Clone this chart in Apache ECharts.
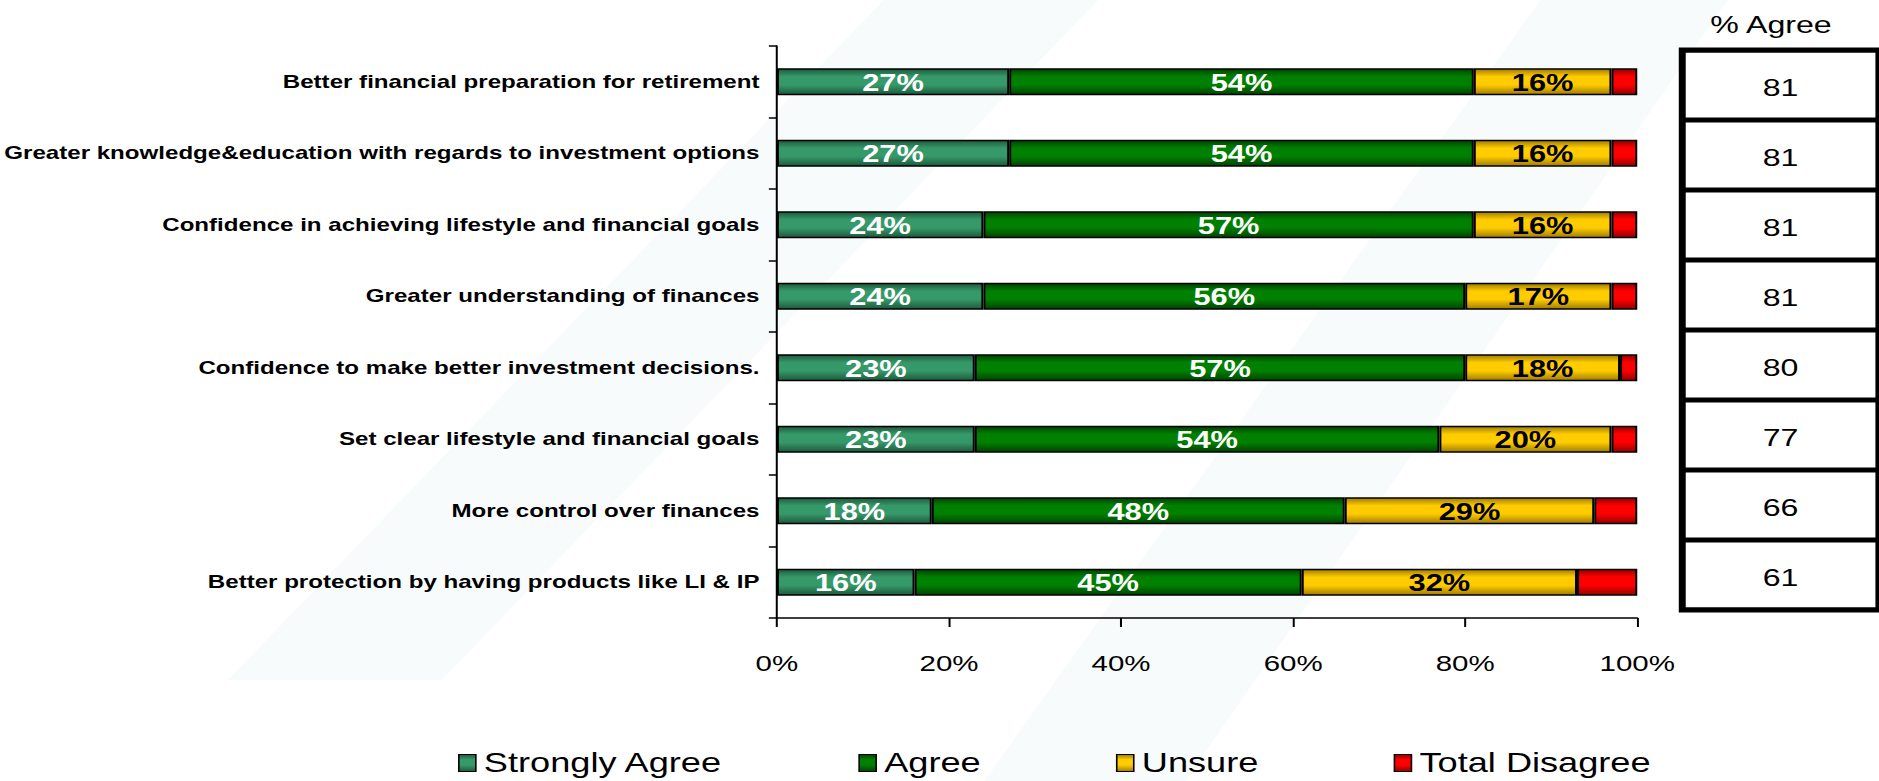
<!DOCTYPE html>
<html>
<head>
<meta charset="utf-8">
<title>Perceived benefits of advice</title>
<script src="https://cdn.jsdelivr.net/npm/echarts@6/dist/echarts.min.js"></script>
<style>
  html, body { margin: 0; padding: 0; background: #ffffff; overflow: hidden; }
  /* The slide is laid out on a narrower canvas and stretched horizontally */
  #chart { width: 1403px; height: 781px; transform: scaleX(1.33927); transform-origin: 0 0; }
</style>
</head>
<body>
<div id="chart"></div>
<script>
// Statements, top to bottom
const categories = [
  'Better financial preparation for retirement',
  'Greater knowledge&education with regards to investment options',
  'Confidence in achieving lifestyle and financial goals',
  'Greater understanding of finances',
  'Confidence to make better investment decisions.',
  'Set clear lifestyle and financial goals',
  'More control over finances',
  'Better protection by having products like LI & IP'
];

// Response shares (%)
const stronglyAgree = [27, 27, 24, 24, 23, 23, 18, 16];
const agree         = [54, 54, 57, 56, 57, 54, 48, 45];
const unsure        = [16, 16, 16, 17, 18, 20, 29, 32];
const totalDisagree = [3, 3, 3, 3, 2, 3, 5, 7];

// "% Agree" column
const agreeTotals = [81, 81, 81, 81, 80, 77, 66, 61];

// Percentage axis
const xTickMin = 0;
const xTickMax = 100;
const xTickStep = 20;

const FONT = '"Liberation Sans", Arial, sans-serif';

function shade(dark, mid) {
  return {
    type: 'linear', x: 0, y: 0, x2: 0, y2: 1,
    colorStops: [
      { offset: 0, color: dark },
      { offset: 0.3, color: mid },
      { offset: 0.62, color: mid },
      { offset: 1, color: dark }
    ]
  };
}

const seriesDefs = [
  { name: 'Strongly Agree', data: stronglyAgree, fill: shade('#1c5a3c', '#36996a'), text: '#ffffff', label: true },
  { name: 'Agree',          data: agree,         fill: shade('#004400', '#008000'), text: '#ffffff', label: true },
  { name: 'Unsure',         data: unsure,        fill: shade('#a07c00', '#ffcc00'), text: '#000000', label: true },
  { name: 'Total Disagree', data: totalDisagree, fill: shade('#960000', '#ff0000'), text: '#000000', label: false }
];

const chart = echarts.init(document.getElementById('chart'), null, { renderer: 'svg' });

const stackSeries = seriesDefs.map(d => ({
  name: d.name,
  type: 'bar',
  stack: 'total',
  xAxisIndex: 0,
  yAxisIndex: 0,
  barWidth: 27,
  data: d.data,
  itemStyle: { color: d.fill, borderColor: '#000000', borderWidth: 1.5 },
  label: {
    show: d.label,
    position: 'inside',
    formatter: '{c}%',
    color: d.text,
    fontFamily: FONT,
    fontWeight: 'bold',
    fontSize: 23,
    offset: [0, 1]
  },
  emphasis: { disabled: true },
  z: 3
}));

// One cell per statement in the "% Agree" column
const tableSeries = {
  name: '% Agree',
  type: 'bar',
  xAxisIndex: 1,
  yAxisIndex: 1,
  barCategoryGap: 0,
  barWidth: '100%',
  data: agreeTotals.map((v, i) => [1, i, v]),
  encode: { x: 0, y: 1 },
  itemStyle: { color: '#ffffff', borderColor: '#000000', borderWidth: 2.5 },
  label: {
    show: true,
    position: 'inside',
    offset: [0, 3],
    formatter: p => String(p.value[2]),
    color: '#000000',
    fontFamily: FONT,
    fontSize: 24
  },
  emphasis: { disabled: true },
  z: 2
};

const option = {
  backgroundColor: '#ffffff',
  animation: false,
  textStyle: { fontFamily: FONT },
  graphic: [
    // faint backdrop bands
    {
      type: 'polygon', z: -10, silent: true,
      shape: { points: [[170, 680], [330, 680], [820, 0], [660, 0]] },
      style: { fill: '#f8fbfc' }
    },
    {
      type: 'polygon', z: -10, silent: true,
      shape: { points: [[735, 781], [885, 781], [1290, 0], [1150, 0]] },
      style: { fill: '#f8fbfc' }
    },
    {
      type: 'text', left: 1327 - 50, top: 13, z: 10,
      style: { text: '% Agree', fontFamily: FONT, fontSize: 24, fill: '#000000', width: 100, align: 'center' }
    }
  ],
  legend: {
    data: seriesDefs.map(d => d.name),
    left: 342,
    top: 749,
    padding: 0,
    itemWidth: 12.7,
    itemHeight: 17,
    itemGap: 101,
    icon: 'rect',
    textStyle: { fontFamily: FONT, fontSize: 27, color: '#000000', padding: [0, 0, 0, 1], lineHeight: 28 },
    itemStyle: { borderColor: '#000000', borderWidth: 1.2 },
    selectedMode: false
  },
  grid: [
    { left: 579.4, right: 180.5, top: 46, bottom: 163, containLabel: false },
    { left: 1256, right: -20, top: 50, bottom: 171, show: true, borderColor: '#000000', borderWidth: 5, backgroundColor: 'transparent', z: 4 }
  ],
  xAxis: [
    {
      type: 'value',
      gridIndex: 0,
      min: xTickMin,
      max: xTickMax,
      interval: xTickStep,
      axisLine: { show: true, lineStyle: { color: '#000000', width: 1.5 } },
      axisTick: { show: true, length: 9, lineStyle: { color: '#000000', width: 1.5 } },
      splitLine: { show: false },
      axisLabel: { formatter: '{value}%', fontFamily: FONT, fontSize: 22, color: '#000000', margin: 34 }
    },
    { type: 'value', gridIndex: 1, min: 0, max: 1, show: false }
  ],
  yAxis: [
    {
      type: 'category',
      gridIndex: 0,
      data: categories,
      inverse: true,
      axisLine: { show: true, lineStyle: { color: '#000000', width: 1.5 } },
      axisTick: { show: true, length: 6, lineStyle: { color: '#000000', width: 1.5 } },
      axisLabel: { fontFamily: FONT, fontWeight: 'bold', fontSize: 18, color: '#000000', margin: 13 }
    },
    { type: 'category', gridIndex: 1, data: categories, inverse: true, show: false }
  ],
  series: [...stackSeries, tableSeries]
};

chart.setOption(option);
</script>
</body>
</html>
